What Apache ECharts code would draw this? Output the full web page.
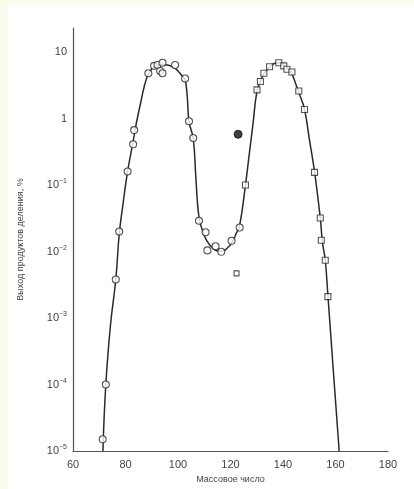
<!DOCTYPE html>
<html><head><meta charset="utf-8">
<script src="https://cdn.jsdelivr.net/npm/echarts@6/dist/echarts.min.js"></script>
<style>
html,body{margin:0;padding:0;background:#fafcee;width:414px;height:489px;overflow:hidden;}
#c{position:absolute;left:8px;top:4px;width:406px;height:485px;background:#fff;}
</style></head>
<body><div id="c"></div>
<script>
// Fitted curve (mass number, yield %)
const curveX = [71.4,72.5,74.3,76.3,77.6,79,80.8,82.9,84,86,88,90,92,94,96,98,100,101.5,102.7,103.5,104.2,105.8,106.8,108,109.5,111,113,115,117,119,120.5,122,123.5,125.7,127,128.5,130.1,131.5,133,135,137,139,141,143,145,146.5,148.2,150,152,154.2,155,156.1,157.1,159,161.4];
const curveY = [1e-5,1e-4,8e-4,3.8e-3,0.018,0.05,0.16,0.45,0.8,1.9,4.0,5.6,6.3,6.5,6.4,6.0,5.2,4.4,3.8,2.2,0.9,0.5,0.13,0.032,0.02,0.0145,0.0115,0.0102,0.0102,0.0115,0.0135,0.018,0.025,0.1,0.26,0.79,2.6,3.7,4.9,6.0,6.8,6.9,6.0,5.0,3.2,2.2,1.38,0.5,0.16,0.032,0.014,0.0074,0.0022,2e-4,1e-5];
// Open circles
const circleX = [71.3,72.5,76.3,77.6,80.8,82.9,83.3,88.7,90.9,92.2,93.2,94.1,94.1,98.9,102.7,104.2,105.8,108,110.5,111.2,114.3,116.5,120.4,123.5];
const circleY = [1.5e-5,1.0e-4,3.8e-3,0.020,0.16,0.41,0.67,4.8,6.2,6.4,5.2,6.9,4.8,6.4,4.0,0.91,0.51,0.029,0.0195,0.0104,0.012,0.0099,0.0145,0.023];
// Open squares
const squareX = [125.7,130.1,131.4,132.7,134.9,138.4,140.3,141.5,143.4,146,148.2,152,154.2,154.6,156.1,157.1];
const squareY = [0.1,2.7,3.6,4.8,6.0,6.9,6.2,5.5,5.0,2.6,1.37,0.155,0.032,0.0148,0.0074,0.0021];
// Separate points
const filledX = [122.9], filledY = [0.58];
const smallSqX = [122.3], smallSqY = [0.0047];
const xTicks = [60,80,100,120,140,160,180];

const zip = (a,b)=>a.map((v,i)=>[v,b[i]]);
const chart = echarts.init(document.getElementById('c'));
const lineCol = '#2a2a2a';
chart.setOption({
  animation:false,
  backgroundColor:'#fff',
  grid:{left:64,right:26,top:24,bottom:34},
  xAxis:{type:'value',min:xTicks[0],max:xTicks[xTicks.length-1],interval:20,
    name:'Массовое число',nameLocation:'middle',nameGap:24,
    nameTextStyle:{fontFamily:'Liberation Sans, Arial',fontSize:9,color:'#444'},
    axisLine:{lineStyle:{color:'#555',width:1.2}},axisTick:{show:false},splitLine:{show:false},
    axisLabel:{fontFamily:'Liberation Sans, Arial',fontSize:11,color:'#444',margin:8}},
  yAxis:{type:'log',logBase:10,min:1e-5,max:23,
    name:'Выход продуктов деления, %',nameLocation:'middle',nameGap:48,
    nameTextStyle:{fontFamily:'Liberation Sans, Arial',fontSize:9,color:'#444'},
    axisLine:{lineStyle:{color:'#555',width:1.2}},axisTick:{show:false},splitLine:{show:false},
    axisLabel:{fontFamily:'Liberation Sans, Arial',color:'#444',margin:6,
      formatter:function(v){
        const e = Math.log10(v); const r = Math.round(e);
        if (Math.abs(e-r)>1e-6 || r>1) return '';
        if (r===1) return '{b|10}';
        if (r===0) return '{b|1}';
        return '{b|10}{s|−'+(-r)+'}';
      },
      rich:{b:{fontSize:11,color:'#444'},s:{fontSize:7,color:'#444',verticalAlign:'top',padding:[0,0,7,0]}}}},
  series:[
    {type:'line',data:zip(curveX,curveY),smooth:0.45,showSymbol:false,symbol:'none',
      lineStyle:{color:lineCol,width:1.5},z:1},
    {type:'scatter',data:zip(circleX,circleY),symbol:'circle',symbolSize:7,
      itemStyle:{color:'#fff',borderColor:lineCol,borderWidth:1.1},z:3},
    {type:'scatter',data:zip(squareX,squareY),symbol:'rect',symbolSize:6,
      itemStyle:{color:'#fff',borderColor:lineCol,borderWidth:1.1},z:3},
    {type:'scatter',data:zip(filledX,filledY),symbol:'circle',symbolSize:8,
      itemStyle:{color:'#111',borderColor:'#111',borderWidth:1},z:3},
    {type:'scatter',data:zip(smallSqX,smallSqY),symbol:'rect',symbolSize:5,
      itemStyle:{color:'#fff',borderColor:lineCol,borderWidth:1.1},z:3}
  ]
});
</script></body></html>
